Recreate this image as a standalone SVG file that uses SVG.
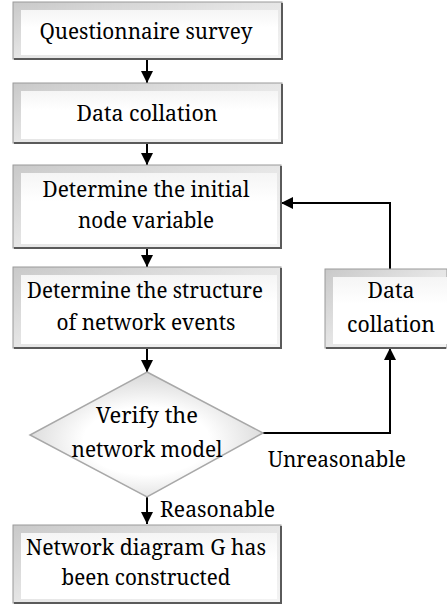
<svg xmlns="http://www.w3.org/2000/svg" width="447" height="604" viewBox="0 0 447 604">
<defs>
<linearGradient id="bev" x1="0" y1="0" x2="1" y2="1">
<stop offset="0" stop-color="#c9c9c9"/>
<stop offset="0.5" stop-color="#e6e6e6"/>
<stop offset="1" stop-color="#f4f4f4"/>
</linearGradient>
<linearGradient id="face" x1="0" y1="0" x2="0" y2="1">
<stop offset="0" stop-color="#f5f5f5"/>
<stop offset="0.4" stop-color="#ffffff"/>
<stop offset="1" stop-color="#ffffff"/>
</linearGradient>
<radialGradient id="dia" cx="0.5" cy="0.55" r="0.6">
<stop offset="0.45" stop-color="#ffffff"/>
<stop offset="1" stop-color="#cfcfcf"/>
</radialGradient>
<marker id="ah" viewBox="0 0 10 10" refX="10" refY="5" markerWidth="12" markerHeight="12" markerUnits="userSpaceOnUse" orient="auto">
<path d="M0,0 L10,5 L0,10 Z" fill="#000"/>
</marker>
</defs>
<style>
.outer{fill:url(#bev);stroke:#9a9a9a;stroke-width:1}
.inner{fill:url(#face);stroke:none}
.shade{fill:none;stroke:#5a5a5a;stroke-width:2}
text{font-family:"Noto Serif","DejaVu Serif",serif;font-size:22px;fill:#000}
.t{text-anchor:middle}
.c{fill:none;stroke:#000;stroke-width:2}
</style>
<g id="connectors">
<line class="c" x1="147" y1="59" x2="147" y2="83" marker-end="url(#ah)"/>
<line class="c" x1="147" y1="143" x2="147" y2="165" marker-end="url(#ah)"/>
<line class="c" x1="147" y1="248" x2="147" y2="267" marker-end="url(#ah)"/>
<line class="c" x1="147" y1="348" x2="147" y2="372" marker-end="url(#ah)"/>
<line class="c" x1="147" y1="497" x2="147" y2="524" marker-end="url(#ah)"/>
<polyline class="c" points="263,433 390,433 390,348" marker-end="url(#ah)"/>
<polyline class="c" points="390,269 390,203 281,203" marker-end="url(#ah)"/>
</g>
<g id="n1">
<rect class="outer" x="13" y="2" width="269" height="57"/>
<rect class="inner" x="21" y="10" width="257" height="45"/>
<polyline class="shade" points="282,3 282,59 14,59"/>
<text class="t" x="146" y="39" textLength="213" lengthAdjust="spacingAndGlyphs">Questionnaire survey</text>
</g>
<g id="n2">
<rect class="outer" x="13" y="83" width="269" height="60"/>
<rect class="inner" x="21" y="91" width="257" height="48"/>
<polyline class="shade" points="282,84 282,143 14,143"/>
<text class="t" x="147" y="121" textLength="141" lengthAdjust="spacingAndGlyphs">Data collation</text>
</g>
<g id="n3">
<rect class="outer" x="13" y="165" width="268" height="83"/>
<rect class="inner" x="21" y="173" width="256" height="71"/>
<polyline class="shade" points="281,166 281,248 14,248"/>
<text class="t" x="146" y="197" textLength="207" lengthAdjust="spacingAndGlyphs">Determine the initial</text>
<text class="t" x="146" y="228" textLength="136" lengthAdjust="spacingAndGlyphs">node variable</text>
</g>
<g id="n4">
<rect class="outer" x="13" y="267" width="268" height="81"/>
<rect class="inner" x="21" y="275" width="256" height="69"/>
<polyline class="shade" points="281,268 281,348 14,348"/>
<text class="t" x="145" y="298" textLength="236" lengthAdjust="spacingAndGlyphs">Determine the structure</text>
<text class="t" x="146" y="330" textLength="179" lengthAdjust="spacingAndGlyphs">of network events</text>
</g>
<g id="n5">
<rect class="outer" x="325" y="269" width="122" height="79"/>
<rect class="inner" x="333" y="277" width="114" height="67"/>
<polyline class="shade" points="446,348 326,348"/>
<text class="t" x="391" y="298" textLength="47" lengthAdjust="spacingAndGlyphs">Data</text>
<text class="t" x="391" y="332" textLength="88" lengthAdjust="spacingAndGlyphs">collation</text>
</g>
<g id="n6">
<polygon points="147,372 263,433 147,497 30,435" fill="url(#dia)" stroke="#a8a8a8" stroke-width="1.5"/>
<text class="t" x="147" y="423" textLength="102" lengthAdjust="spacingAndGlyphs">Verify the</text>
<text class="t" x="147" y="457" textLength="151" lengthAdjust="spacingAndGlyphs">network model</text>
</g>
<g id="n7">
<rect class="outer" x="13" y="525" width="268" height="78"/>
<rect class="inner" x="21" y="533" width="256" height="66"/>
<polyline class="shade" points="281,526 281,603 14,603"/>
<text class="t" x="146" y="555" textLength="240" lengthAdjust="spacingAndGlyphs">Network diagram G has</text>
<text class="t" x="146" y="585" textLength="169" lengthAdjust="spacingAndGlyphs">been constructed</text>
</g>
<g id="labels">
<text x="268" y="467" textLength="138" lengthAdjust="spacingAndGlyphs">Unreasonable</text>
<text x="160" y="517" textLength="115" lengthAdjust="spacingAndGlyphs">Reasonable</text>
</g>
</svg>
